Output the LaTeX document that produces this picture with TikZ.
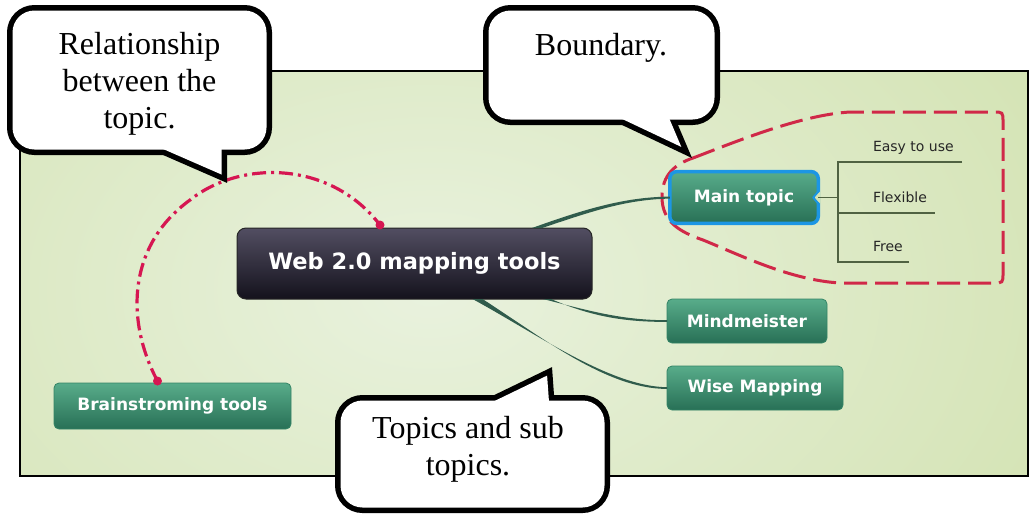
\documentclass[tikz,border=0pt]{standalone}
\usepackage{fontspec}
\setmainfont{Liberation Serif}
\newfontfamily\nodefont{DejaVu Sans}
\usetikzlibrary{calc}
\definecolor{bgin}{RGB}{233,242,222}
\definecolor{bgout}{RGB}{206,223,168}
\definecolor{gtop}{RGB}{88,172,138}
\definecolor{gbot}{RGB}{40,112,86}
\definecolor{gedge}{RGB}{52,132,102}
\definecolor{wtop}{RGB}{82,78,98}
\definecolor{wbot}{RGB}{20,18,28}
\definecolor{mainblue}{RGB}{28,150,228}
\definecolor{branchcol}{RGB}{48,92,76}
\definecolor{sublinecol}{RGB}{80,98,66}
\definecolor{subtextcol}{RGB}{38,38,38}
\definecolor{relcol}{RGB}{214,22,82}
\definecolor{boundcol}{RGB}{208,40,72}
\definecolor{notchcol}{RGB}{212,228,180}
\begin{document}
\begin{tikzpicture}[x=1pt,y=-1pt,
  webnode/.style={shade, top color=wtop, bottom color=wbot, draw=black!85, line width=1pt,
    rounded corners=9pt, minimum width=355pt, minimum height=71pt, inner sep=0pt, outer sep=0pt,
    text=white, font=\nodefont\bfseries\fontsize{22.5}{27}\selectfont},
  topicnode/.style={shade, top color=gtop, bottom color=gbot, draw=gedge, line width=0.8pt,
    rounded corners=5pt, minimum height=44pt, inner sep=0pt, outer sep=0pt,
    text=white, font=\nodefont\bfseries\fontsize{17}{20}\selectfont},
  mainnode/.style={topicnode, draw=mainblue, line width=3.5pt, rounded corners=7pt,
    minimum width=148.5pt, minimum height=51.75pt},
  subtext/.style={inner sep=0pt, outer sep=0pt, anchor=west, text=subtextcol,
    font=\nodefont\fontsize{14}{17}\selectfont},
  subline/.style={draw=sublinecol, line width=1.3pt},
  branch/.style={fill=branchcol},
  relation/.style={draw=relcol, line width=3.2pt, dash pattern=on 14pt off 5pt on 3pt off 5pt},
  boundary/.style={draw=boundcol, line width=3pt, dash pattern=on 23pt off 8pt},
  calloutline/.style={draw=black, line width=11pt, line join=miter, miter limit=10},
  callouttext/.style={align=center, inner sep=0pt, font=\fontsize{32}{37}\selectfont}
]
\useasboundingbox (0,0) rectangle (1030,517);
\fill[white] (0,0) rectangle (1030,517);

% panel
\begin{scope}
  \clip (20,71) rectangle (1028,476);
  \shade[inner color=bgin, outer color=bgout] (-470,-310) rectangle (1330,890);
\end{scope}
\draw[line width=2pt] (20,71) rectangle (1028,476);

% boundary
\draw[boundary] (693,158) .. controls (735,142) and (800,115) .. (850,112) -- (993,112)
  .. controls (1003,112) .. (1003,122) -- (1003,273) .. controls (1003,283) .. (993,283)
  -- (840,283) .. controls (790,280) and (740,255) .. (703,240)
  .. controls (680,232) and (662,222) .. (662,197)
  .. controls (662,175) and (675,164) .. (693,158) -- cycle;

% nodes
\node[webnode] (web) at (414.5,263.5) {Web 2.0 mapping tools};
\node[mainnode] (main) at (744,197.5) {Main topic};
\node[topicnode, minimum width=160pt] (mind) at (747,321) {Mindmeister};
\node[topicnode, minimum width=176pt] (wise) at (755,388) {Wise Mapping};
\node[topicnode, minimum width=237pt, minimum height=46pt] (brain) at (172.5,406) {Brainstroming tools};

% notch on main topic
\fill[notchcol] ([xshift=2pt,yshift=6pt]main.east) -- ([xshift=-5pt]main.east) -- ([xshift=2pt,yshift=-6pt]main.east) -- cycle;
\draw[mainblue, line width=2pt, line join=round] ([yshift=6pt]main.east) -- ([xshift=-5pt]main.east) -- ([yshift=-6pt]main.east);

% branches (tapered)
\fill[branch] ($(web.north east)+(-60,0)$) .. controls (585,209) and (625,197) .. ($(main.west)+(0,-0.9)$)
  -- ($(main.west)+(0,1.1)$) .. controls (625,199.5) and (590,212) .. ($(web.north east)+(-50,0)$) -- cycle;
\fill[branch] ($(web.south east)+(-49,0)$) .. controls (590,311) and (622,320.2) .. ($(mind.west)+(0,-0.8)$)
  -- ($(mind.west)+(0,0.9)$) .. controls (620,322) and (588,315) .. ($(web.south east)+(-41,0)$) -- cycle;
\fill[branch] ($(web.south)+(58,0)$) .. controls (537,334) and (610,386.5) .. ($(wise.west)+(0,-0.8)$)
  -- ($(wise.west)+(0,0.9)$) .. controls (607,389) and (543,338) .. ($(web.south)+(68,0)$) -- cycle;

% sub topics
\coordinate (jn) at (838,197.5);
\coordinate (e1) at (962,162);
\coordinate (e2) at (935,213);
\coordinate (e3) at (909,262);
\draw[subline] (main.east) -- (jn);
\draw[subline] (e1) -| (jn);
\draw[subline] (e3) -| (jn);
\draw[subline] (jn |- e2) -- (e2);
\node[subtext] (easy) at (873,148) {Easy to use};
\node[subtext] (flex) at (873,197) {Flexible};
\node[subtext] (free) at (873,246) {Free};

% relationship
\coordinate (r1) at ([xshift=-15pt,yshift=2pt]brain.north);
\coordinate (r2) at ([xshift=-34.5pt,yshift=3pt]web.north);
\draw[relation] (r1) .. controls (125,320) and (128,245) .. (190,200) .. controls (240,160) and (330,160) .. (r2);
\fill[relcol] (r1) circle (4.5);
\fill[relcol] (r2) circle (4.5);

% callout 1
\draw[calloutline, rounded corners=22pt] (12.5,10.5) rectangle (266.5,149.5);
\draw[calloutline] (131,135) -- (221.5,174.5) -- (221.5,135) -- cycle;
\fill[white, rounded corners=22pt] (12.5,10.5) rectangle (266.5,149.5);
\fill[white] (131,135) -- (221.5,174.5) -- (221.5,135) -- cycle;
\node[callouttext] (c1) at (139.5,84) {Relationship\\between the\\topic.};

% callout 2
\draw[calloutline, rounded corners=22pt] (488.5,10.5) rectangle (714.5,119.5);
\draw[calloutline] (582,100) -- (681.3,146.9) -- (661.4,100) -- cycle;
\fill[white, rounded corners=22pt] (488.5,10.5) rectangle (714.5,119.5);
\fill[white] (582,100) -- (681.3,146.9) -- (661.4,100) -- cycle;
\node[callouttext, anchor=base] (c2) at (601,55) {Boundary.};

% callout 3
\draw[calloutline, rounded corners=22pt] (340.5,400.5) rectangle (604.5,507.5);
\draw[calloutline] (455.2,420) -- (547.1,375.6) -- (550.3,420) -- cycle;
\fill[white, rounded corners=22pt] (340.5,400.5) rectangle (604.5,507.5);
\fill[white] (455.2,420) -- (547.1,375.6) -- (550.3,420) -- cycle;
\node[callouttext] (c3) at (468,449) {Topics and sub\\topics.};
\end{tikzpicture}
\end{document}
